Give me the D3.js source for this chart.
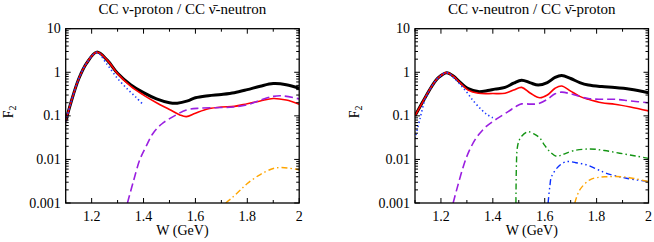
<!DOCTYPE html>
<html>
<head>
<meta charset="utf-8">
<script src="https://cdn.jsdelivr.net/npm/d3@7"></script>
<style>
  body { margin: 0; background: #fff; }
  text { font-family: "Liberation Serif", "DejaVu Serif", serif; fill: #000; }
</style>
</head>
<body>
<div id="chart"></div>
<script>
// ---- data ----
var xTicks = [1.2, 1.4, 1.6, 1.8, 2.0];
var yTicks = [0.001, 0.01, 0.1, 1, 10];
var yTickLabels = ["0.001", "0.01", "0.1", "1", "10"];
var titles = ["CC \u03bd-proton / CC \u03bd\u0304-neutron", "CC \u03bd-neutron / CC \u03bd\u0304-proton"];

// left panel: nu-proton
var pW_total = [1.1, 1.12, 1.15, 1.18, 1.22, 1.26, 1.3, 1.35, 1.4, 1.45, 1.5, 1.53, 1.57, 1.6, 1.65, 1.7, 1.75, 1.8, 1.85, 1.9, 1.95, 2.0];
var pF_total = [0.075, 0.2, 0.7, 1.6, 2.9, 1.9, 0.95, 0.52, 0.34, 0.245, 0.2, 0.195, 0.22, 0.26, 0.29, 0.31, 0.34, 0.4, 0.48, 0.55, 0.52, 0.43];
var pW_res = [1.1, 1.12, 1.15, 1.18, 1.22, 1.26, 1.3, 1.35, 1.4, 1.45, 1.5, 1.54, 1.565, 1.6, 1.65, 1.7, 1.75, 1.8, 1.85, 1.9, 1.95, 2.0];
var pF_res = [0.075, 0.2, 0.7, 1.6, 2.9, 1.9, 0.93, 0.48, 0.3, 0.2, 0.14, 0.105, 0.096, 0.115, 0.145, 0.16, 0.165, 0.19, 0.22, 0.25, 0.23, 0.185];
var pW_delta = [1.1, 1.12, 1.15, 1.18, 1.22, 1.26, 1.3, 1.34, 1.37, 1.395];
var pF_delta = [0.075, 0.2, 0.7, 1.6, 2.85, 1.5, 0.72, 0.4, 0.27, 0.19];
var pW_dis = [1.338, 1.36, 1.386, 1.41, 1.437, 1.47, 1.514, 1.565, 1.617, 1.7, 1.745, 1.8, 1.86, 1.9, 1.93, 2.0];
var pF_dis = [0.001, 0.003, 0.01, 0.02, 0.04, 0.065, 0.096, 0.136, 0.15, 0.155, 0.16, 0.18, 0.24, 0.28, 0.29, 0.245];
var pW_orange = [1.717, 1.74, 1.77, 1.8, 1.85, 1.9, 1.93, 1.96, 2.0];
var pF_orange = [0.001, 0.0013, 0.0019, 0.0028, 0.0045, 0.0062, 0.0065, 0.0063, 0.0058];

// right panel: nu-neutron
var nW_total = [1.1, 1.13, 1.164, 1.19, 1.222, 1.25, 1.267, 1.305, 1.344, 1.38, 1.408, 1.447, 1.48, 1.511, 1.545, 1.575, 1.61, 1.64, 1.665, 1.7, 1.735, 1.768, 1.82, 1.87, 1.93, 2.0];
var nF_total = [0.1, 0.21, 0.47, 0.75, 0.98, 0.8, 0.64, 0.42, 0.36, 0.38, 0.41, 0.45, 0.56, 0.66, 0.57, 0.51, 0.58, 0.76, 0.84, 0.72, 0.58, 0.51, 0.47, 0.45, 0.41, 0.34];
var nW_res = [1.1, 1.13, 1.164, 1.19, 1.222, 1.25, 1.267, 1.305, 1.344, 1.4, 1.447, 1.48, 1.511, 1.545, 1.581, 1.61, 1.64, 1.665, 1.7, 1.735, 1.768, 1.82, 1.87, 1.93, 2.0];
var nF_res = [0.1, 0.21, 0.47, 0.75, 0.98, 0.79, 0.63, 0.39, 0.33, 0.325, 0.33, 0.39, 0.45, 0.33, 0.26, 0.3, 0.43, 0.485, 0.37, 0.28, 0.24, 0.2, 0.185, 0.16, 0.13];
var nW_delta = [1.1, 1.12, 1.14, 1.164, 1.19, 1.222, 1.25, 1.293, 1.325, 1.357, 1.38, 1.4];
var nF_delta = [0.03, 0.09, 0.25, 0.47, 0.75, 0.98, 0.74, 0.39, 0.22, 0.137, 0.105, 0.09];
var nW_dis = [1.247, 1.265, 1.286, 1.305, 1.331, 1.35, 1.376, 1.408, 1.459, 1.49, 1.511, 1.545, 1.575, 1.61, 1.64, 1.665, 1.7, 1.768, 1.82, 1.87, 1.93, 2.0];
var nF_dis = [0.001, 0.0025, 0.0068, 0.014, 0.028, 0.04, 0.058, 0.08, 0.125, 0.165, 0.188, 0.186, 0.19, 0.24, 0.32, 0.35, 0.32, 0.25, 0.24, 0.24, 0.22, 0.2];
var nW_green = [1.489, 1.491, 1.494, 1.5, 1.511, 1.536, 1.56, 1.581, 1.6, 1.62, 1.646, 1.67, 1.71, 1.774, 1.83, 1.889, 1.95, 2.0];
var nF_green = [0.001, 0.008, 0.018, 0.026, 0.034, 0.043, 0.038, 0.031, 0.021, 0.015, 0.0118, 0.013, 0.0158, 0.0174, 0.016, 0.0139, 0.012, 0.0106];
var nW_blue = [1.613, 1.62, 1.626, 1.652, 1.684, 1.72, 1.761, 1.8, 1.838, 1.915, 2.0];
var nF_blue = [0.001, 0.0025, 0.004, 0.0068, 0.0089, 0.0084, 0.0075, 0.006, 0.0048, 0.0037, 0.0031];
var nW_orange = [1.716, 1.735, 1.774, 1.81, 1.838, 1.9, 1.95, 2.0];
var nF_orange = [0.001, 0.002, 0.0034, 0.0039, 0.004, 0.004, 0.0036, 0.0031];

// line styles
var styles = {
  total:  {color: "#000", width: 3, dash: null},
  res:    {color: "#ff0000", width: 1.6, dash: null},
  delta:  {color: "#1e3cff", width: 1.6, dash: "1.4,2.6"},
  dis:    {color: "#9a1fe0", width: 1.6, dash: "8,4"},
  orange: {color: "#ffa500", width: 1.4, dash: "6,3,1.5,3"},
  green:  {color: "#139413", width: 1.4, dash: "6,3,1.5,3"},
  blue:   {color: "#0a2eff", width: 1.4, dash: "6,3,1.5,3,1.5,3"}
};

var panels = [
  {left: 65.7, title: titles[0], series: [
    ["total", pW_total, pF_total], ["res", pW_res, pF_res], ["delta", pW_delta, pF_delta],
    ["dis", pW_dis, pF_dis], ["orange", pW_orange, pF_orange]]},
  {left: 415, title: titles[1], series: [
    ["total", nW_total, nF_total], ["res", nW_res, nF_res], ["delta", nW_delta, nF_delta],
    ["dis", nW_dis, nF_dis], ["green", nW_green, nF_green], ["blue", nW_blue, nF_blue],
    ["orange", nW_orange, nF_orange]]}
];

var width = 654, height = 242;
var plotW = 233.5, plotTop = 28.7, plotBottom = 203;

var svg = d3.select("#chart").append("svg")
  .attr("width", width)
  .attr("height", height);

panels.forEach(function(p, i) {
  var h = plotBottom - plotTop;
  var x = d3.scaleLinear().domain([1.1, 2.0]).range([0, plotW]);
  var y = d3.scaleLog().domain([0.001, 10]).range([h, 0]);
  var g = svg.append("g")
    .attr("transform", "translate(" + p.left + "," + plotTop + ")");

  g.append("clipPath").attr("id", "clip" + i)
    .append("rect").attr("width", plotW).attr("height", h);

  // curves
  var line = d3.line()
    .x(d => x(d[0]))
    .y(d => y(d[1]))
    .curve(d3.curveCatmullRom.alpha(0.5));
  var curves = g.append("g").attr("clip-path", "url(#clip" + i + ")");
  p.series.forEach(function(s) {
    var st = styles[s[0]];
    var pts = s[1].map((w, k) => [w, s[2][k]]);
    curves.append("path")
      .attr("d", line(pts))
      .attr("fill", "none")
      .attr("stroke", st.color)
      .attr("stroke-width", st.width)
      .attr("stroke-dasharray", st.dash)
      .attr("stroke-linejoin", "round");
  });

  // ticks, pointing inward on all four sides
  var xMinor = d3.range(1.1, 2.0001, 0.1);
  var ticks = g.append("g").attr("stroke", "#000").attr("stroke-width", 1);
  xMinor.forEach(function(v) {
    var major = xTicks.some(t => Math.abs(t - v) < 1e-6);
    var len = major ? 5 : 3;
    ticks.append("line").attr("x1", x(v)).attr("x2", x(v)).attr("y1", h).attr("y2", h - len);
    ticks.append("line").attr("x1", x(v)).attr("x2", x(v)).attr("y1", 0).attr("y2", len);
  });
  yTicks.forEach(function(t, k) {
    [1, 2, 3, 4, 5, 6, 7, 8, 9].forEach(function(m) {
      var v = t * m;
      if (v > 10) return;
      var len = m === 1 ? 5 : 3;
      ticks.append("line").attr("x1", 0).attr("x2", len).attr("y1", y(v)).attr("y2", y(v));
      ticks.append("line").attr("x1", plotW).attr("x2", plotW - len).attr("y1", y(v)).attr("y2", y(v));
    });
  });

  // frame
  g.append("rect")
    .attr("width", plotW).attr("height", h)
    .attr("fill", "none").attr("stroke", "#000").attr("stroke-width", 1.3);

  // tick labels
  xTicks.forEach(function(t) {
    g.append("text")
      .attr("x", x(t)).attr("y", h + 18.5)
      .attr("text-anchor", "middle")
      .attr("font-size", 14)
      .text(t === 2 ? "2" : t.toFixed(1));
  });
  yTicks.forEach(function(t, k) {
    g.append("text")
      .attr("x", -5).attr("y", y(t))
      .attr("dy", "0.33em")
      .attr("text-anchor", "end")
      .attr("font-size", 14)
      .text(yTickLabels[k]);
  });

  // axis titles
  g.append("text")
    .attr("x", plotW / 2).attr("y", h + 32)
    .attr("text-anchor", "middle")
    .attr("font-size", 14)
    .text("W (GeV)");
  var yl = g.append("text")
    .attr("transform", "translate(" + (i === 0 ? -53 : -56) + "," + (h / 2 - 4) + ") rotate(-90)")
    .attr("text-anchor", "middle")
    .attr("font-size", 14);
  yl.append("tspan").text("F");
  yl.append("tspan").attr("font-size", 10).attr("dy", 3).text("2");

  // title
  g.append("text")
    .attr("x", plotW / 2).attr("y", -15)
    .attr("text-anchor", "middle")
    .attr("font-size", 15)
    .text(p.title);
});
</script>
</body>
</html>
